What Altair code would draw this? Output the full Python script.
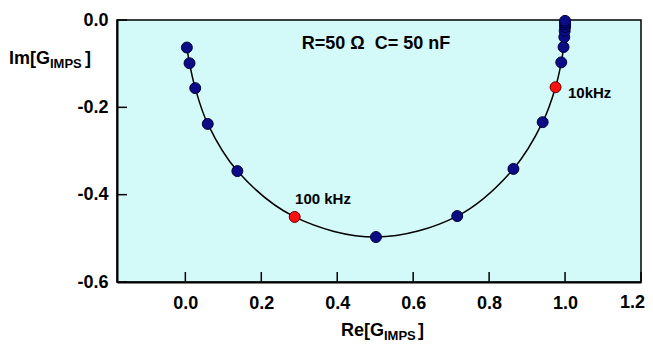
import altair as alt
import pandas as pd

# Values (Re, Im of G_IMPS), ordered from high to low frequency
re_vals = [0.004, 0.011, 0.026, 0.059, 0.137, 0.288, 0.502, 0.716, 0.864, 0.941,
           0.975, 0.990, 0.996, 0.998, 0.999, 1.000, 1.000, 1.000, 1.000]
im_vals = [-0.063, -0.099, -0.156, -0.238, -0.346, -0.451, -0.497, -0.449, -0.341, -0.234,
           -0.154, -0.097, -0.062, -0.039, -0.025, -0.016, -0.010, -0.006, -0.002]
marked = [False, False, False, False, False, True, False, False, False, False,
          True, False, False, False, False, False, False, False, False]

x_ticks = [0.0, 0.2, 0.4, 0.6, 0.8, 1.0, 1.2]
y_ticks = [-0.6, -0.4, -0.2, 0.0]

df = pd.DataFrame({"re": re_vals, "im": im_vals, "marked": marked,
                   "idx": list(range(len(re_vals)))})
xt = pd.DataFrame({"v": x_ticks})
yt = pd.DataFrame({"v": y_ticks})

FONT = "Liberation Sans"
W, H = 524, 262
xs = alt.Scale(domain=[-0.18, 1.2], nice=False, zero=False)
ys = alt.Scale(domain=[-0.6, 0.0], nice=False, zero=False)
lab = "replace(format(datum.value, '.1f'), '\u2212', '-')"

# last x label (at the right edge) is drawn separately so it is not clipped
x_axis = alt.Axis(values=x_ticks[:-1], labelExpr=lab, ticks=False, tickSize=0, grid=False,
                  domainColor="black", domainWidth=2, labelFont=FONT,
                  labelFontWeight="bold", labelFontSize=18, labelColor="black",
                  labelPadding=12, labelFlush=False, title=None)
y_axis = alt.Axis(values=y_ticks, labelExpr=lab, ticks=False, tickSize=0, grid=False,
                  domainColor="black", domainWidth=2, labelFont=FONT,
                  labelFontWeight="bold", labelFontSize=18, labelColor="black",
                  labelPadding=9, labelFlush=False, title=None)

curve = alt.Chart(df).mark_line(color="black", strokeWidth=1.5,
                                interpolate="catmull-rom").encode(
    x=alt.X("re:Q", scale=xs, axis=x_axis),
    y=alt.Y("im:Q", scale=ys, axis=y_axis),
    order="idx:Q",
)

points = alt.Chart(df).mark_circle(size=120, opacity=1, strokeWidth=1).encode(
    x=alt.X("re:Q", scale=xs),
    y=alt.Y("im:Q", scale=ys),
    color=alt.Color("marked:N", scale=alt.Scale(domain=[False, True],
                                                range=["#0c0c86", "#ff1010"]), legend=None),
    stroke=alt.Stroke("marked:N", scale=alt.Scale(domain=[False, True],
                                                  range=["#00003a", "#5a0000"]), legend=None),
)

xtick_marks = alt.Chart(xt).mark_rule(color="black", strokeWidth=1.5).encode(
    x=alt.X("v:Q", scale=xs), y=alt.value(H), y2=alt.value(H - 10))
ytick_marks = alt.Chart(yt).mark_rule(color="black", strokeWidth=1.5).encode(
    y=alt.Y("v:Q", scale=ys), x=alt.value(0), x2=alt.value(10))


def txt(s, x, y, size=17, align="left", baseline="alphabetic"):
    return alt.Chart(pd.DataFrame({"t": [s]})).mark_text(
        font=FONT, fontWeight="bold", fontSize=size, color="black",
        align=align, baseline=baseline).encode(
        text="t:N", x=alt.value(x), y=alt.value(y))


texts = [
    txt(f"{x_ticks[-1]:.1f}", 528, H + 12, size=18, align="right", baseline="top"),
    txt("R=50 \u03a9\u00a0 C= 50 nF", 259, 24, size=18, align="center", baseline="middle"),
    txt("100 kHz", 206, 179, size=15, align="center", baseline="middle"),
    txt("10kHz", 451, 73, size=15, align="left", baseline="middle"),
    # y title Im[G_IMPS]
    txt("Im[G", -67, 44, size=18, align="right"),
    txt("IMPS", -67, 48, size=13),
    txt("]", -32, 44, size=18),
    # x title Re[G_IMPS]
    txt("Re[G", 267, 316, size=18, align="right"),
    txt("IMPS", 267, 320, size=13),
    txt("]", 301, 316, size=18),
]

chart = alt.layer(curve, xtick_marks, ytick_marks, points, *texts).properties(
    width=W, height=H,
    autosize=alt.AutoSizeParams(type="none"),
    padding={"left": 109, "top": 12, "right": 4, "bottom": 61},
).configure_view(fill="#d4f9f9", stroke="black", strokeWidth=1.5)

chart.save("out.html", embed_options={"renderer": "svg", "actions": False})
